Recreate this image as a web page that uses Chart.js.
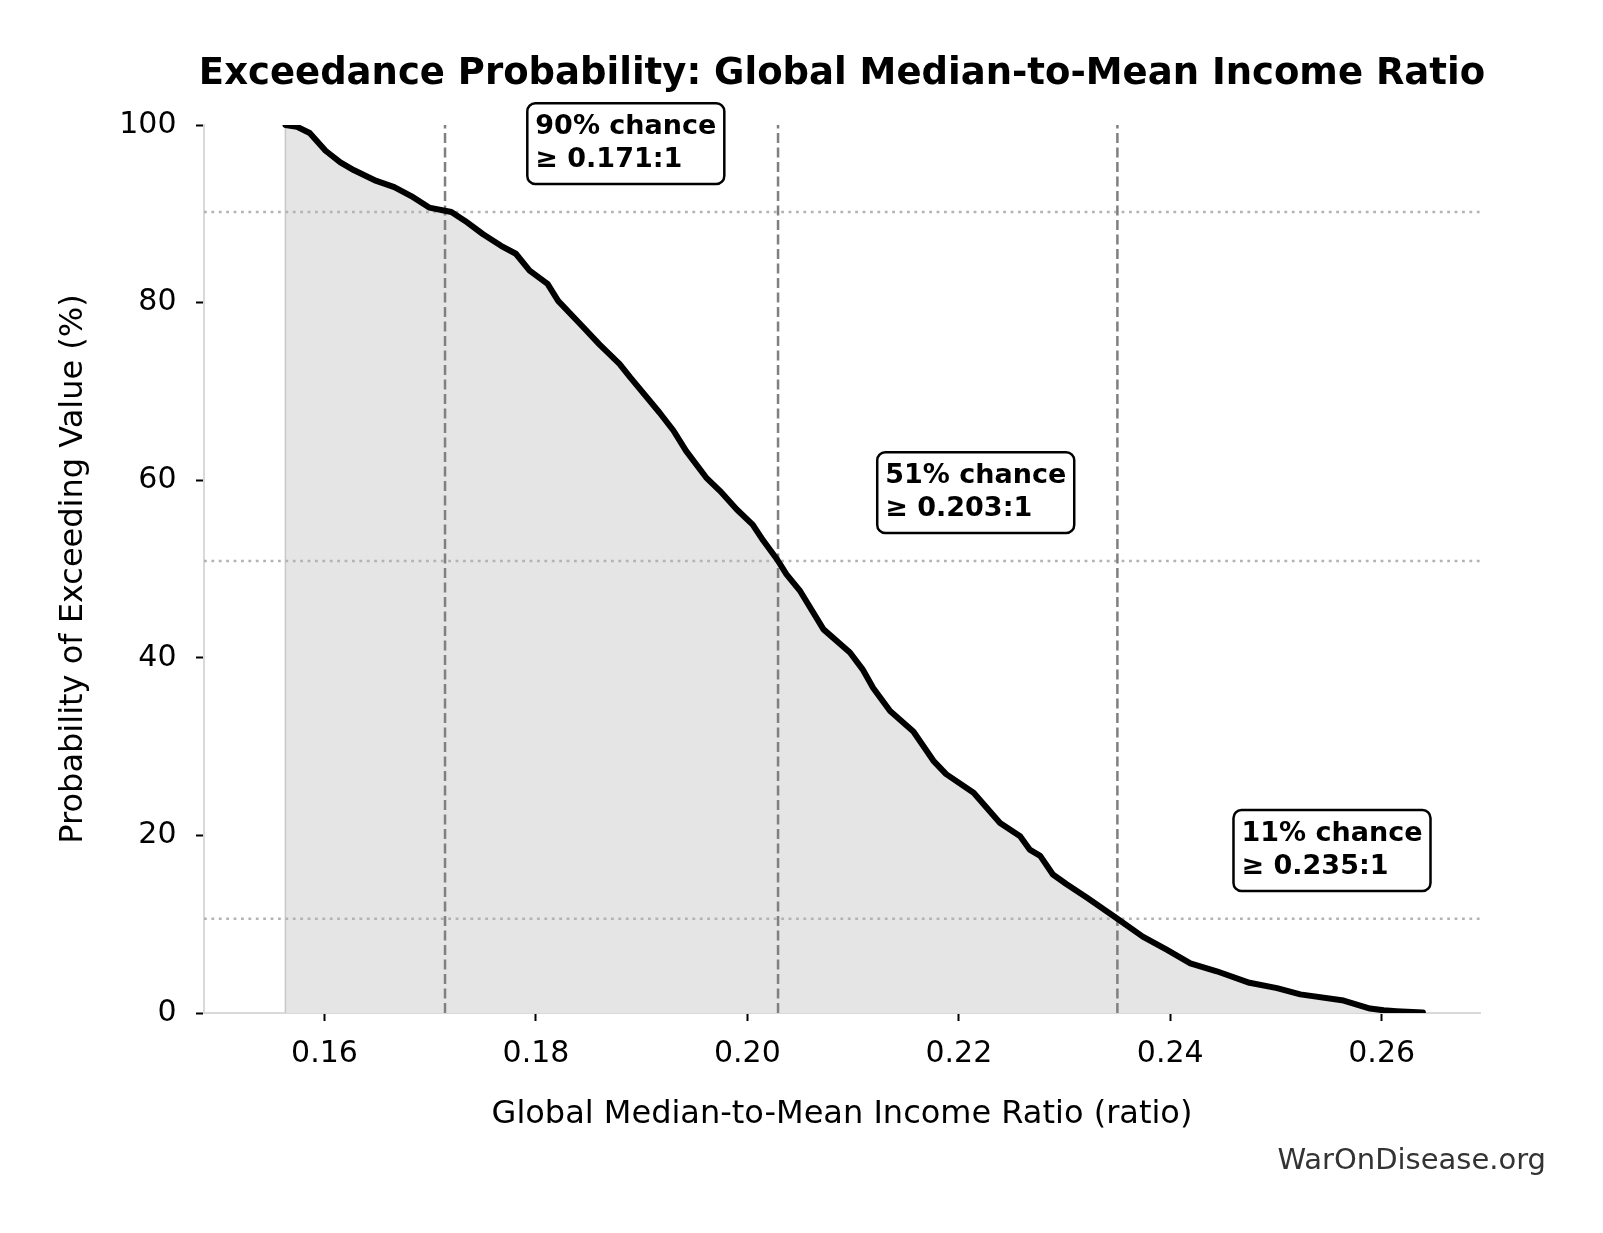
<!DOCTYPE html>
<html>
<head>
<meta charset="utf-8">
<script src="https://cdn.jsdelivr.net/npm/chart.js@4.4.1/dist/chart.umd.min.js"></script>
<style>
html,body{margin:0;padding:0;background:#fff;}
canvas{display:block;}
</style>
</head>
<body>
<canvas id="c" width="1603" height="1233" style="width:1603px;height:1233px"></canvas>
<script>
// ---- Data ----
const ratioValues = [0.1563, 0.1574, 0.1586, 0.1601, 0.1615, 0.1628, 0.1649, 0.1666, 0.1682, 0.1699,
  0.1720, 0.1733, 0.1750, 0.1767, 0.1781, 0.1794, 0.1811, 0.1821, 0.1845, 0.1860,
  0.1879, 0.1889, 0.1917, 0.1930, 0.1942, 0.1961, 0.1974, 0.1990, 0.2005, 0.2015,
  0.2028, 0.2037, 0.2050, 0.2072, 0.2097, 0.2109, 0.2119, 0.2135, 0.2157, 0.2176,
  0.2188, 0.2214, 0.2239, 0.2258, 0.2267, 0.2277, 0.2289, 0.2302, 0.2321, 0.2349,
  0.2374, 0.2397, 0.2419, 0.2444, 0.2475, 0.2501, 0.2523, 0.2564, 0.2589, 0.2602,
  0.2614, 0.2639];
const exceedPct = [100, 99.8, 99.1, 97.1, 95.8, 94.9, 93.7, 93.0, 92.0, 90.7,
  90.2, 89.2, 87.7, 86.4, 85.5, 83.6, 82.1, 80.2, 77.2, 75.3,
  73.1, 71.6, 67.6, 65.6, 63.3, 60.3, 58.8, 56.7, 55.0, 53.2,
  51.1, 49.4, 47.5, 43.2, 40.6, 38.7, 36.6, 34.0, 31.7, 28.4,
  26.9, 24.8, 21.4, 19.9, 18.4, 17.7, 15.6, 14.5, 13.0, 10.7,
  8.6, 7.1, 5.6, 4.7, 3.4, 2.8, 2.1, 1.4, 0.5, 0.3,
  0.2, 0.05];
const thresholdRatios = [0.1714, 0.2029, 0.2350];
const thresholdPcts = [90.2, 50.9, 10.6];
const annotLines = [["90% chance", "\u2265 0.171:1"], ["51% chance", "\u2265 0.203:1"], ["11% chance", "\u2265 0.235:1"]];
const xTickValues = [0.16, 0.18, 0.20, 0.22, 0.24, 0.26];
const yTickValues = [0, 20, 40, 60, 80, 100];
const titleText = "Exceedance Probability: Global Median-to-Mean Income Ratio";
const xTitle = "Global Median-to-Mean Income Ratio (ratio)";
const yTitle = "Probability of Exceeding Value (%)";
const watermark = "WarOnDisease.org";
const X_MIN = 0.1486, X_MAX = 0.2693;

// ---- Chart ----
Chart.defaults.font.family = "'DejaVu Sans', sans-serif";
Chart.defaults.color = '#000';

const curve = ratioValues.map((x, i) => ({x: x, y: exceedPct[i]}));

const datasets = [
  {data: curve, borderColor: '#000', borderWidth: 6, pointRadius: 0, fill: 'origin',
   backgroundColor: '#e5e5e5', tension: 0, order: 0, borderJoinStyle: 'round', borderCapStyle: 'round'},
  {data: [{x: ratioValues[0], y: 0}, {x: ratioValues[0], y: exceedPct[0]}], borderColor: '#c9c9c9',
   borderWidth: 1.5, pointRadius: 0, fill: false, order: 3}
];
thresholdRatios.forEach(t => datasets.push({
  data: [{x: t, y: 0}, {x: t, y: 100}], borderColor: '#808080', borderWidth: 2.5,
  borderDash: [10, 4.5], pointRadius: 0, fill: false, order: 1
}));
thresholdPcts.forEach(p => datasets.push({
  data: [{x: X_MIN, y: p}, {x: X_MAX, y: p}], borderColor: '#b3b3b3', borderWidth: 2.5,
  borderDash: [2.8, 4.6], pointRadius: 0, fill: false, order: 2
}));

const annotCenterX = [0.1885, 0.2216, 0.2553];
const annotYOffset = 7.7;

const decorPlugin = {
  id: 'decor',
  afterDraw(chart) {
    const ctx = chart.ctx;
    const ca = chart.chartArea;
    const xs = chart.scales.x, ys = chart.scales.y;
    ctx.save();
    // title
    ctx.fillStyle = '#000';
    ctx.font = "bold 37px 'DejaVu Sans', sans-serif";
    ctx.textAlign = 'center';
    ctx.textBaseline = 'middle';
    ctx.fillText(titleText, (ca.left + ca.right) / 2, 74);
    // watermark
    ctx.fillStyle = '#333';
    ctx.font = "29px 'DejaVu Sans', sans-serif";
    ctx.textAlign = 'right';
    ctx.fillText(watermark, 1546, 1161);
    // annotations
    ctx.font = "bold 27px 'DejaVu Sans', sans-serif";
    const lh = 32.4, pad = 8;
    annotLines.forEach((lines, i) => {
      const cx = xs.getPixelForValue(annotCenterX[i]);
      const cy = ys.getPixelForValue(thresholdPcts[i] + annotYOffset);
      const w = Math.max(...lines.map(l => ctx.measureText(l).width));
      const bw = w + 2 * pad, bh = lines.length * lh + 2 * pad;
      const bx = cx - bw / 2, by = cy - bh / 2;
      ctx.beginPath();
      ctx.roundRect(bx, by, bw, bh, 8);
      ctx.fillStyle = '#fff';
      ctx.fill();
      ctx.lineWidth = 2.5;
      ctx.strokeStyle = '#000';
      ctx.stroke();
      ctx.fillStyle = '#000';
      ctx.textAlign = 'left';
      ctx.textBaseline = 'middle';
      lines.forEach((l, j) => ctx.fillText(l, bx + pad, by + pad + lh * (j + 0.5)));
    });
    ctx.restore();
  }
};

new Chart(document.getElementById('c'), {
  type: 'line',
  data: {datasets: datasets},
  plugins: [decorPlugin],
  options: {
    responsive: false,
    animation: false,
    events: [],
    layout: {padding: {left: 0, right: 123, top: 125, bottom: 0}},
    plugins: {
      legend: {display: false},
      tooltip: {enabled: false},
      title: {display: false},
      filler: {propagate: false, drawTime: 'beforeDatasetsDraw'}
    },
    scales: {
      x: {
        type: 'linear', min: X_MIN, max: X_MAX,
        afterBuildTicks: s => { s.ticks = xTickValues.map(v => ({value: v})); },
        afterFit: s => { s.height = 220; },
        ticks: {font: {size: 30}, color: '#000', padding: 15, maxRotation: 0, minRotation: 0, autoSkip: false,
                callback: v => Number(v).toFixed(2)},
        grid: {display: true, drawOnChartArea: false, drawTicks: true, tickLength: 8, tickColor: '#000', tickWidth: 2},
        border: {display: true, color: '#d9d9d9', width: 2},
        title: {display: true, text: xTitle, font: {size: 32}, color: '#000', padding: {top: 0, bottom: 98.8}}
      },
      y: {
        type: 'linear', min: 0, max: 100,
        afterBuildTicks: s => { s.ticks = yTickValues.map(v => ({value: v})); },
        afterFit: s => { s.width = 204; },
        ticks: {font: {size: 30}, color: '#000', padding: 19.5, autoSkip: false,
                callback: v => String(v)},
        grid: {display: true, drawOnChartArea: false, drawTicks: true, tickLength: 8, tickColor: '#000', tickWidth: 2},
        border: {display: true, color: '#d9d9d9', width: 2},
        title: {display: true, text: yTitle, font: {size: 32}, color: '#000', padding: {top: 54.3, bottom: 0}}
      }
    }
  }
});
</script>
</body>
</html>
